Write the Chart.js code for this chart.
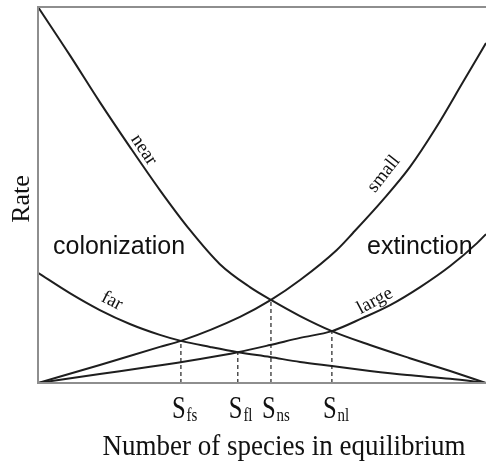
<!DOCTYPE html>
<html>
<head>
<meta charset="utf-8">
<script src="https://cdn.jsdelivr.net/npm/chart.js@4/dist/chart.umd.min.js"></script>
<style>
  html, body { margin: 0; padding: 0; background: #fff; }
  #wrap { width: 486px; height: 462px; position: relative; }
</style>
</head>
<body>
<div id="wrap"><canvas id="c"></canvas></div>
<script>
// ---- data (x: number of species, 0-100; y: rate, 0-100) ----
const nearX  = [0, 7.1, 13.8, 20.5, 27.2, 33.9, 40.6, 47.3, 52.0, 58.5, 65.6, 74.1, 83.0, 92.0, 100];
const nearY  = [100, 87.2, 74.7, 62.8, 51.3, 40.7, 31.6, 25.5, 22.1, 17.8, 13.8, 10.1, 6.6, 3.2, 0];
const farX   = [0, 7.1, 13.8, 20.5, 27.2, 31.9, 38.4, 44.6, 51.8, 58.5, 65.6, 74.1, 82.4, 92.0, 100];
const farY   = [29.3, 23.9, 19.4, 15.7, 12.8, 11.2, 9.6, 8.2, 6.9, 5.6, 4.5, 3.2, 2.1, 1.1, 0];
const smallX = [0, 13.8, 27.2, 31.9, 45.1, 52.0, 58.5, 66.7, 70.3, 77.0, 83.0, 88.8, 94.9, 100];
const smallY = [0, 4.8, 9.6, 11.2, 17.6, 22.1, 27.4, 35.4, 39.9, 48.7, 57.4, 67.8, 80.1, 90.4];
const largeX = [0, 13.8, 25.0, 36.2, 44.6, 51.8, 58.5, 65.6, 72.5, 78.6, 85.3, 92.0, 98.0, 100];
const largeY = [0, 2.4, 4.3, 6.4, 8.2, 10.1, 12.0, 13.8, 17.3, 20.7, 25.5, 31.1, 37.2, 39.6];
// equilibria (intersections) and their tick labels: [main, subscript]
const eqX    = [31.9, 44.6, 52.0, 65.6];
const eqY    = [11.2, 8.2, 22.1, 13.8];
const eqLabels = [["S", "fs"], ["S", "fl"], ["S", "ns"], ["S", "nl"]];
const curveNames = ["near", "far", "small", "large"];

const toPts = (xs, ys) => xs.map((x, i) => ({ x: x, y: ys[i] }));
const curveStyle = { borderColor: "#1e1e1e", borderWidth: 2, pointRadius: 0, showLine: true,
                     cubicInterpolationMode: "monotone", fill: false };
const datasets = [
  Object.assign({ label: curveNames[0], data: toPts(nearX, nearY) }, curveStyle),
  Object.assign({ label: curveNames[1], data: toPts(farX, farY) }, curveStyle),
  Object.assign({ label: curveNames[2], data: toPts(smallX, smallY) }, curveStyle),
  Object.assign({ label: curveNames[3], data: toPts(largeX, largeY) }, curveStyle)
];
eqX.forEach((x, i) => {
  datasets.push({ label: "eq" + i, data: [{ x: x, y: 0 }, { x: x, y: eqY[i] }],
    borderColor: "#222", borderWidth: 1.2, borderDash: [4, 3], pointRadius: 0, showLine: true });
});

const serif = '"Liberation Serif", "Times New Roman", serif';
const sans = '"Liberation Sans", Arial, sans-serif';

const decor = {
  id: "decor",
  afterDraw(chart) {
    const ctx = chart.ctx, a = chart.chartArea;
    const xs = chart.scales.x, ys = chart.scales.y;
    ctx.save();
    // frame
    ctx.strokeStyle = "#8e8e8e"; ctx.lineWidth = 2;
    ctx.beginPath();
    ctx.moveTo(a.right + 2, a.top); ctx.lineTo(a.left, a.top);
    ctx.lineTo(a.left, a.bottom); ctx.lineTo(a.right + 2, a.bottom);
    ctx.stroke();
    ctx.fillStyle = "#111";
    // region labels
    ctx.font = "25px " + sans; ctx.textAlign = "left"; ctx.textBaseline = "alphabetic";
    ctx.fillText("colonization", a.left + 15, a.top + 247);
    ctx.fillText("extinction", a.left + 329, a.top + 247);
    // curve labels (rotated along the curves)
    const lab = (t, xv, yv, ang) => {
      ctx.save();
      ctx.translate(xs.getPixelForValue(xv), ys.getPixelForValue(yv));
      ctx.rotate(ang * Math.PI / 180);
      ctx.font = "19px " + serif; ctx.textAlign = "center"; ctx.textBaseline = "middle";
      ctx.fillText(t, 0, 0);
      ctx.restore();
    };
    lab(curveNames[0], 23.6, 62.0, 56);
    lab(curveNames[2], 77.2, 55.6, -52);
    lab(curveNames[1], 16.5, 21.8, 27);
    lab(curveNames[3], 75.2, 21.8, -28);
    // equilibrium tick labels with subscripts
    eqX.forEach((x, i) => {
      const px = xs.getPixelForValue(x);
      const base = a.bottom + 35;
      ctx.save();
      ctx.translate(px - 9, base);
      ctx.scale(0.88, 1.12);
      ctx.textAlign = "left"; ctx.textBaseline = "alphabetic";
      ctx.font = "28px " + serif;
      const w = ctx.measureText(eqLabels[i][0]).width;
      ctx.fillText(eqLabels[i][0], 0, 0);
      ctx.font = "17px " + serif;
      ctx.fillText(eqLabels[i][1], w + 1, 3);
      ctx.restore();
    });
    // axis titles
    ctx.save();
    ctx.translate((a.left + a.right) / 2 + 22, a.bottom + 72);
    ctx.scale(1, 1.12);
    ctx.font = "27px " + serif; ctx.textAlign = "center"; ctx.textBaseline = "alphabetic";
    ctx.fillText("Number of species in equilibrium", 0, 0);
    ctx.restore();
    ctx.save();
    ctx.translate(29, (a.top + a.bottom) / 2 + 4);
    ctx.rotate(-Math.PI / 2);
    ctx.font = "26px " + serif; ctx.textAlign = "center"; ctx.textBaseline = "alphabetic";
    ctx.fillText("Rate", 0, 0);
    ctx.restore();
    ctx.restore();
  }
};

new Chart(document.getElementById("c"), {
  type: "scatter",
  data: { datasets: datasets },
  options: {
    responsive: true, maintainAspectRatio: false, animation: false,
    layout: { padding: { left: 38, top: 7, right: 0, bottom: 79 } },
    plugins: { legend: { display: false }, tooltip: { enabled: false } },
    scales: {
      x: { type: "linear", min: 0, max: 100, display: false },
      y: { type: "linear", min: 0, max: 100, display: false }
    }
  },
  plugins: [decor]
});
</script>
</body>
</html>
